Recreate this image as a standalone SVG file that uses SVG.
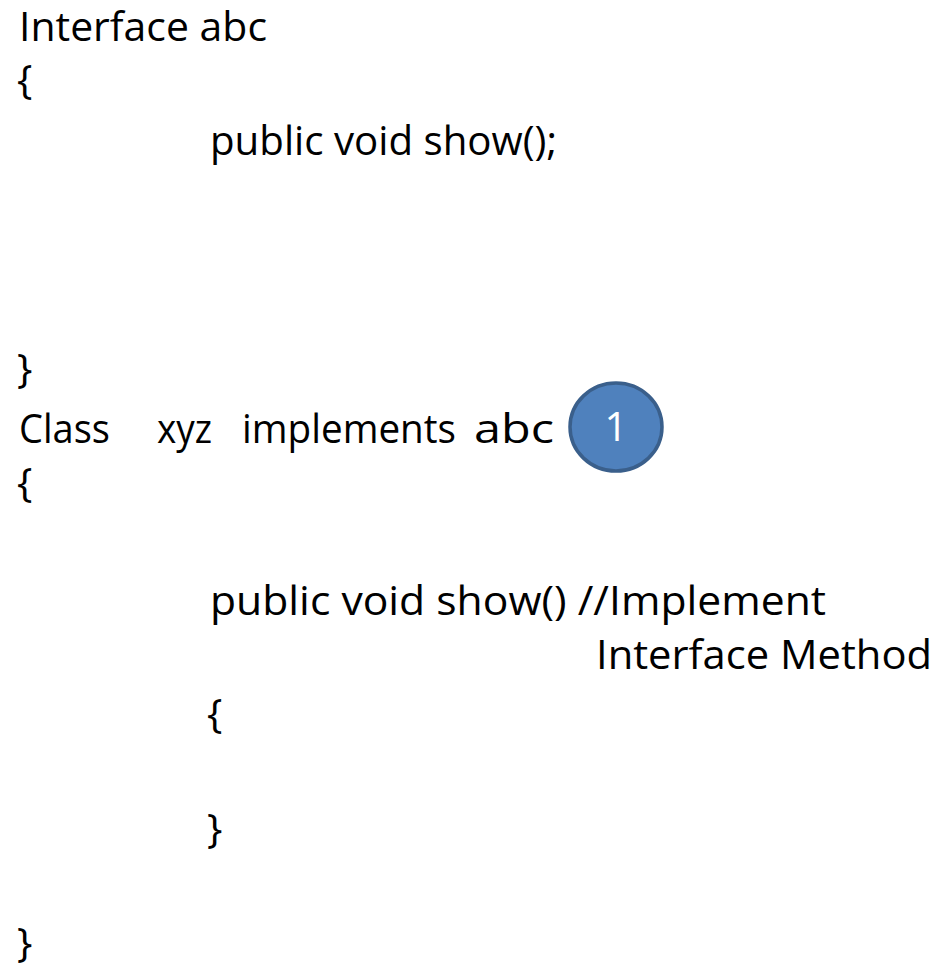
<svg xmlns="http://www.w3.org/2000/svg" width="950" height="969" viewBox="0 0 950 969">
<style>
.t{font-family:"Open Sans","Liberation Sans",sans-serif;font-size:41px;fill:#000}
.br{font-family:"Open Sans","Liberation Sans",sans-serif;font-size:41px;fill:#000}
.badge{fill:#4F81BD;stroke:#3A5F8B;stroke-width:3.5}
.bt{font-family:"Open Sans","Liberation Sans",sans-serif;font-size:40px;fill:#fff;text-anchor:middle}
</style>
<rect width="950" height="969" fill="#fff"/>
<g id="code">
<text class="t" x="19" y="41" textLength="248" lengthAdjust="spacingAndGlyphs">Interface abc</text>
<text class="br" x="17" y="94">{</text>
<text class="t" x="210" y="155" textLength="347" lengthAdjust="spacingAndGlyphs">public void show();</text>
<text class="br" x="17" y="383">}</text>
<text class="t" x="19" y="443" textLength="91" lengthAdjust="spacingAndGlyphs">Class</text>
<text class="t" x="157" y="443" textLength="55" lengthAdjust="spacingAndGlyphs">xyz</text>
<text class="t" x="242" y="443" textLength="214" lengthAdjust="spacingAndGlyphs">implements</text>
<text class="t" x="474" y="443" textLength="80" lengthAdjust="spacingAndGlyphs">abc</text>
<text class="br" x="17" y="497">{</text>
<text class="t" x="210" y="615" textLength="616" lengthAdjust="spacingAndGlyphs">public void show() //Implement</text>
<text class="t" x="596" y="669" textLength="336" lengthAdjust="spacingAndGlyphs">Interface Method</text>
<text class="br" x="207" y="728">{</text>
<text class="br" x="207" y="843">}</text>
<text class="br" x="17" y="957">}</text>
</g>
<g id="badge1">
<ellipse class="badge" cx="616" cy="427" rx="46" ry="44"/>
<text class="bt" x="616" y="441">1</text>
</g>
</svg>
